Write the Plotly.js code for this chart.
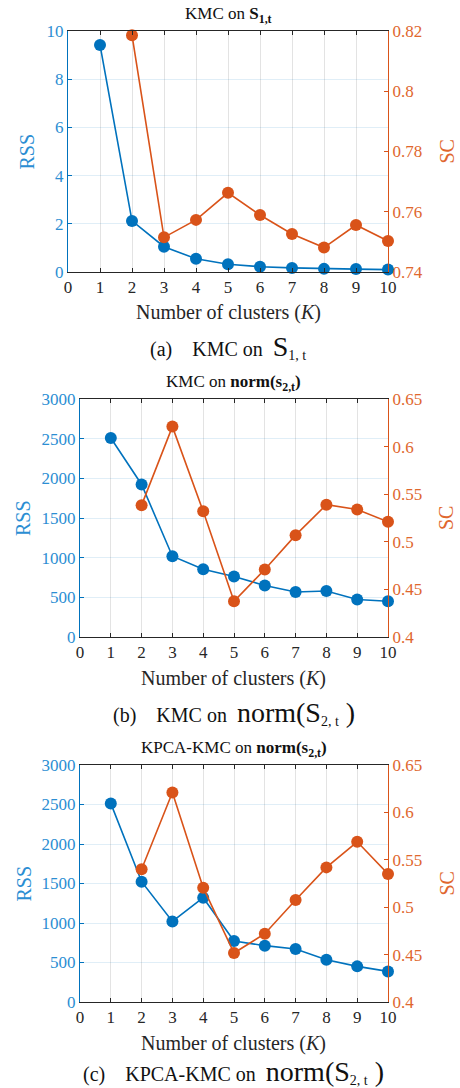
<!DOCTYPE html>
<html><head><meta charset="utf-8">
<script src="https://cdn.plot.ly/plotly-3.0.1.min.js"></script>
<style>body{margin:0;background:#fff}#c{width:460px;height:1088px}</style>
</head><body><div id="c"></div>
<script>
const K = [1,2,3,4,5,6,7,8,9,10];
const K_SC = [2,3,4,5,6,7,8,9,10];
const xTicks = [0,1,2,3,4,5,6,7,8,9,10];
// (a) KMC on S1,t
const rssA = [9.42, 2.12, 1.05, 0.55, 0.32, 0.22, 0.17, 0.13, 0.12, 0.10];
const scA  = [0.8186, 0.7515, 0.7573, 0.7663, 0.7589, 0.7526, 0.7481, 0.7556, 0.7503];
// (b) KMC on norm(s2,t)
const rssB = [2508, 1923, 1018, 854, 762, 649, 568, 580, 472, 450];
const scB  = [0.5385, 0.621, 0.532, 0.4375, 0.471, 0.507, 0.539, 0.534, 0.521];
// (c) KPCA-KMC on norm(s2,t)
const rssC = [2514, 1523, 1020, 1320, 772, 713, 671, 535, 451, 387];
const scC  = [0.540, 0.621, 0.5206, 0.4517, 0.472, 0.5076, 0.542, 0.569, 0.535];

const titles = ['KMC on <b>S</b><b><sub>1,t</sub></b>',
  'KMC on <b>norm(s</b><b><sub>2,t</sub></b><b>)</b>',
  'KPCA-KMC on <b>norm(s</b><b><sub>2,t</sub></b><b>)</b>'];
const captions = ['(a)    KMC on  <span style="font-size:28px">S</span><sub>1, t</sub>',
  '(b)    KMC on  <span style="font-size:28px">norm(S</span><sub>2, t</sub><span style="font-size:28px"> )</span>',
  '(c)    KPCA-KMC on  <span style="font-size:28px">norm(S</span><sub>2, t</sub><span style="font-size:28px"> )</span>'];
const xTitle = 'Number of clusters (<i>K</i>)';

const BLUE='#0072BD', ORANGE='#D95319', BLUET='#2b8ed3', ORANGET='#e0672e', DARK='#262626';
const FONT='"Liberation Serif", "Times New Roman", serif';
const H=1088, W=460;
const plots = [
  {rss:rssA, sc:scA, x0:68, top:31, bot:272, yl:[0,10], dl:2, yr:[0.74,0.82], dr:0.02, rssX:26},
  {rss:rssB, sc:scB, x0:80, top:399, bot:637, yl:[0,3000], dl:500, yr:[0.4,0.65], dr:0.05, rssX:23},
  {rss:rssC, sc:scC, x0:80, top:765, bot:1002, yl:[0,3000], dl:500, yr:[0.4,0.65], dr:0.05, rssX:23}
];
const X1=388;
const data=[]; const layout={
  width:W, height:H, margin:{l:0,r:0,t:0,b:0}, showlegend:false,
  paper_bgcolor:'#fff', plot_bgcolor:'#fff', font:{family:FONT, size:17, color:DARK},
  annotations:[]
};
function ann(text,x,y,size,color,angle){
  layout.annotations.push({text:text, xref:'paper', yref:'paper', x:x/W, y:1-y/H,
    showarrow:false, xanchor:'center', yanchor:'middle', textangle:angle||0,
    font:{family:FONT,size:size,color:color}});
}
plots.forEach((p,i)=>{
  const n=i+1;
  const xa = n===1?'x':'x'+n;
  const yl = (2*n-1)===1?'y':'y'+(2*n-1);
  const yr = 'y'+(2*n);
  data.push({x:K, y:p.rss, xaxis:xa, yaxis:yl, mode:'lines+markers', type:'scatter',
    line:{color:BLUE,width:1.6}, marker:{color:BLUE,size:12}, cliponaxis:false});
  data.push({x:K_SC, y:p.sc, xaxis:xa, yaxis:yr, mode:'lines+markers', type:'scatter',
    line:{color:ORANGE,width:1.6}, marker:{color:ORANGE,size:12}, cliponaxis:false});
  const xd=[p.x0/W, X1/W], yd=[1-p.bot/H, 1-p.top/H];
  const xkey = n===1?'xaxis':'xaxis'+n;
  const ylkey = (2*n-1)===1?'yaxis':'yaxis'+(2*n-1);
  const yrkey = 'yaxis'+(2*n);
  layout[xkey] = {domain:xd, anchor:yl, range:[0,10], tickvals:xTicks,
    showgrid:true, gridcolor:'#e3e3e3', gridwidth:1, zeroline:false,
    showline:true, linecolor:DARK, linewidth:1, mirror:'ticks', ticks:'inside', ticklen:4, tickcolor:DARK,
    tickfont:{family:FONT,size:17,color:DARK}, fixedrange:true};
  layout[ylkey] = {domain:yd, anchor:xa, range:p.yl, dtick:p.dl, tick0:0,
    showgrid:true, gridcolor:'rgba(0,114,189,0.12)', zeroline:false,
    showline:true, linecolor:BLUE, linewidth:1, ticks:'inside', ticklen:4, tickcolor:BLUE,
    tickfont:{family:FONT,size:17,color:BLUET}};
  layout[yrkey] = {domain:yd, anchor:xa, overlaying:yl, side:'right', range:p.yr, dtick:p.dr, tick0:0,
    showgrid:false, zeroline:false,
    showline:true, linecolor:ORANGE, linewidth:1, ticks:'inside', ticklen:4, tickcolor:ORANGE,
    tickfont:{family:FONT,size:17,color:ORANGET}};
  const cx=(p.x0+X1)/2;
  const cy=(p.top+p.bot)/2;
  ann(titles[i], cx, p.top-16, 17, '#111');
  ann('RSS', p.rssX, cy, 20, BLUET, -90);
  ann('SC', 446, cy, 20, ORANGET, -90);
  ann(xTitle, cx, p.bot+41, 20, DARK);
});
ann(captions[0], 228, 347, 20, '#111');
ann(captions[1], 234, 713, 20, '#111');
ann(captions[2], 234, 1072, 20, '#111');
Plotly.newPlot('c', data, layout, {displayModeBar:false, staticPlot:true});
</script></body></html>
